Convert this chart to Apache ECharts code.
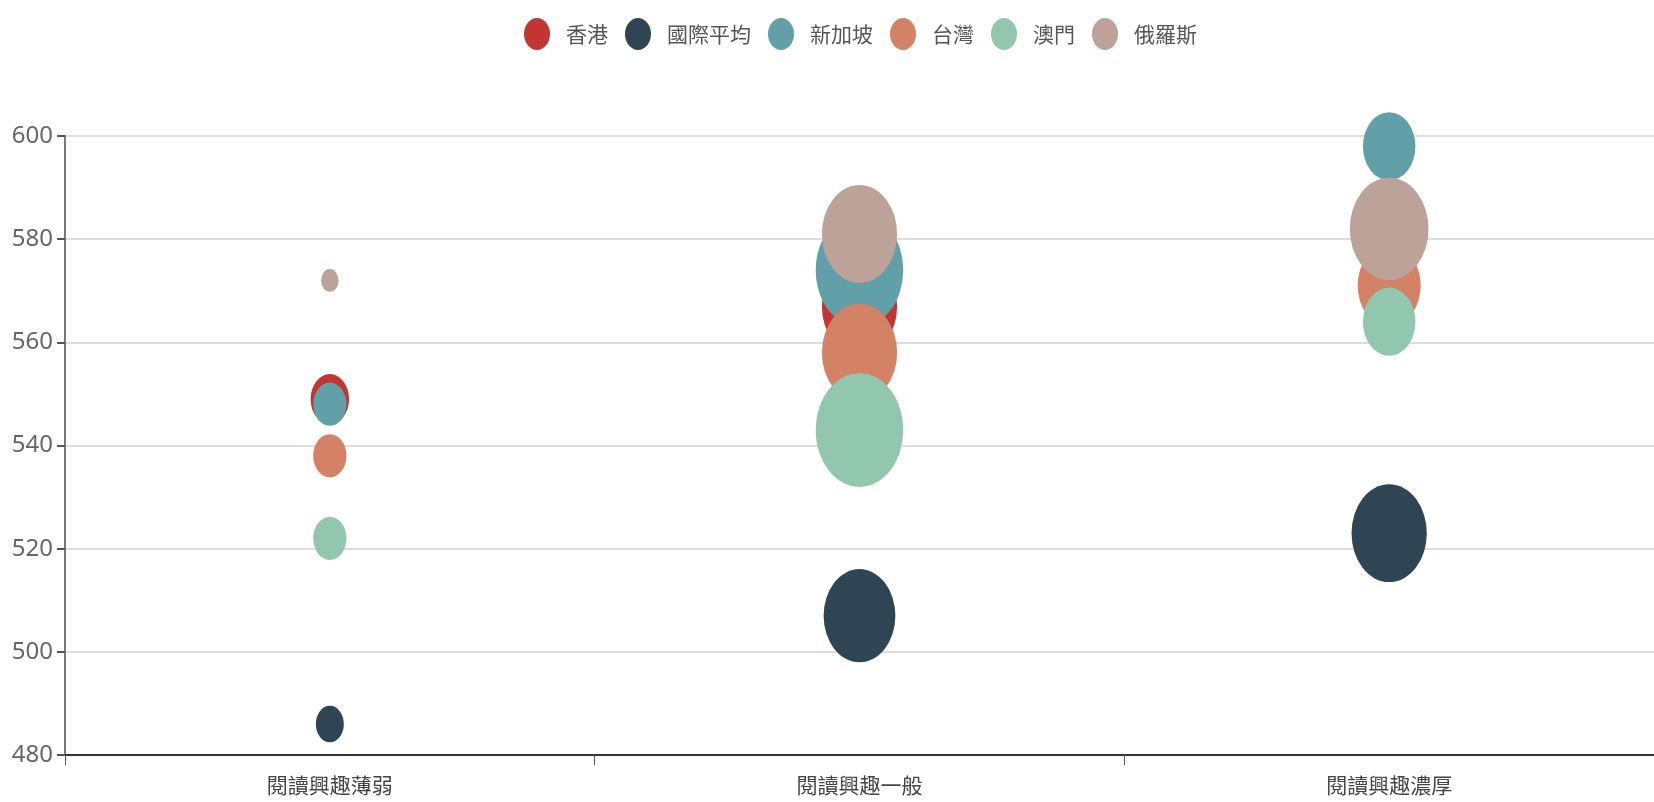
<!DOCTYPE html>
<html>
<head>
<meta charset="utf-8">
<script src="https://cdn.jsdelivr.net/npm/echarts@6/dist/echarts.min.js"></script>
<style>
html,body{margin:0;padding:0;background:#fff;}
#chart{width:1654px;height:802px;}
</style>
</head>
<body>
<div id="chart"></div>
<script>
// Categories (reading interest level)
var categories = ['閱讀興趣薄弱', '閱讀興趣一般', '閱讀興趣濃厚'];
var seriesNames = ['香港', '國際平均', '新加坡', '台灣', '澳門', '俄羅斯'];

// Reading scores per category
var scoreHK   = [549, 567, 571];
var scoreIntl = [486, 507, 523];
var scoreSG   = [548, 574, 598];
var scoreTW   = [538, 558, 571];
var scoreMO   = [522, 543, 564];
var scoreRU   = [572, 581, 582];

// Share of students (%) per category (bubble size)
var shareHK   = [22, 43, 35];
var shareIntl = [16, 41, 43];
var shareSG   = [19, 50, 30];
var shareTW   = [19, 43, 36];
var shareMO   = [19, 50, 30];
var shareRU   = [10, 43, 45];

var yTicks = [480, 500, 520, 540, 560, 580, 600];

var colors = ['#c23531', '#2f4554', '#61a0a8', '#d48265', '#91c7ae', '#bda29a'];
var scores = [scoreHK, scoreIntl, scoreSG, scoreTW, scoreMO, scoreRU];
var shares = [shareHK, shareIntl, shareSG, shareTW, shareMO, shareRU];

var K = 1.75, ASPECT = 1.3;
var ELLIPSE = 'path://M13,0 A13,16 0 1,1 13,32 A13,16 0 1,1 13,0 Z';

var chart = echarts.init(document.getElementById('chart'), null, {renderer: 'canvas'});
var series = seriesNames.map(function (name, s) {
  return {
    name: name,
    type: 'scatter',
    symbol: 'circle',
    symbolSize: function (v) { return [v[2] * K, v[2] * K * ASPECT]; },
    itemStyle: {color: colors[s], opacity: 1},
    emphasis: {disabled: true},
    data: categories.map(function (c, i) { return [c, scores[s][i], shares[s][i]]; })
  };
});

chart.setOption({
  animation: false,
  color: colors,
  legend: {
    data: seriesNames.map(function (n) { return {name: n, icon: ELLIPSE}; }),
    left: 519,
    top: 13,
    itemWidth: 26,
    itemHeight: 32,
    itemGap: 17,
    textStyle: {fontSize: 21, color: '#555', padding: [0, 0, 0, 11], fontFamily: 'Noto Sans CJK TC, sans-serif'}
  },
  grid: {left: 65, right: -15, top: 136, bottom: 47, containLabel: false},
  xAxis: {
    type: 'category',
    data: categories,
    boundaryGap: true,
    axisLine: {lineStyle: {color: '#333', width: 2}},
    axisTick: {show: true, length: 10, lineStyle: {color: '#555'}},
    axisLabel: {fontSize: 21, color: '#444', margin: 20, fontFamily: 'Noto Sans CJK TC, sans-serif'},
    splitLine: {show: false}
  },
  yAxis: {
    type: 'value',
    min: yTicks[0],
    max: yTicks[yTicks.length - 1],
    interval: 20,
    axisLine: {show: true, lineStyle: {color: '#777', width: 2}},
    axisTick: {show: true, length: 8, lineStyle: {color: '#555', width: 2}},
    axisLabel: {fontSize: 24, color: '#666', margin: 12, fontFamily: 'Noto Sans, sans-serif'},
    splitLine: {show: true, lineStyle: {color: '#ddd', width: 2}}
  },
  series: series
});
</script>
</body>
</html>
